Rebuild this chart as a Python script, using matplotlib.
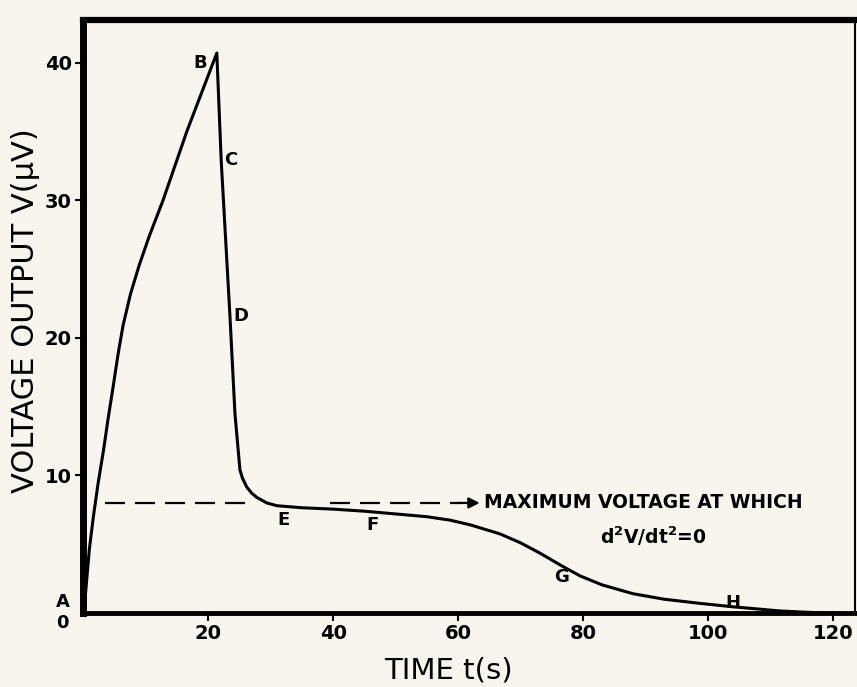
import numpy as np
import matplotlib
matplotlib.use("Agg")
import matplotlib.pyplot as plt

## curve: time (s) and voltage (uV)
t_rise = [0, 0.3, 1.0, 1.65, 2.4, 3.3, 4.0, 4.9, 5.6, 6.4, 7.6, 9.0, 10.6, 12.8, 16.6, 21.4]
v_rise = [0, 0.9, 4.6, 7.0, 9.4, 11.9, 14.1, 16.7, 18.8, 20.9, 23.2, 25.3, 27.4, 30, 35, 40.7]

t_fall = [22.1, 23.5, 24.3, 25.1, 25.5, 26.2, 27.0, 27.8, 29.4, 31.0]
v_fall = [32.9, 21.6, 14.5, 10.4, 9.8, 9.15, 8.7, 8.4, 8.0, 7.8]

t_tail = [35, 40, 45, 50, 55, 58.7, 62, 66.7, 70, 73.1, 76.5, 79.5, 83, 88, 93, 98.7, 104, 111.5, 116, 120]
v_tail = [7.65, 7.55, 7.4, 7.2, 7.0, 6.75, 6.4, 5.75, 5.1, 4.35, 3.45, 2.7, 2.05, 1.4, 1.0, 0.7, 0.45, 0.15, 0.05, 0.0]

v_inflect = 8.0  # dashed level

point_names = ['B', 'C', 'D', 'E', 'F', 'G', 'H']
point_t = [18.7, 23.6, 25.2, 32.0, 46.3, 76.6, 104.0]
point_v = [40.0, 32.9, 21.6, 6.75, 6.4, 2.6, 0.75]

xticks = [20, 40, 60, 80, 100, 120]
yticks = [10, 20, 30, 40]

t = t_rise + t_fall + t_tail
v = v_rise + v_fall + v_tail

paper = '#f7f5ee'
fig = plt.figure(figsize=(8.57, 6.87), dpi=100, facecolor=paper)
ax = fig.add_axes([0.0969, 0.1077, 0.9008, 0.8632], facecolor=paper)

ax.plot(t, v, color='black', lw=2.2, solid_joinstyle='round')

# dashed line + arrow to the note
ax.plot([3.5, 26.8], [v_inflect, v_inflect], color='black', lw=1.6, dashes=(9, 4.5))
ax.plot([39.5, 60.5], [v_inflect, v_inflect], color='black', lw=1.6, dashes=(9, 4.5))
ax.annotate('', xy=(63.9, v_inflect), xytext=(59.5, v_inflect),
            arrowprops=dict(arrowstyle='-|>', color='black', lw=1.6, mutation_scale=16))

ax.text(64.2, v_inflect, 'MAXIMUM VOLTAGE AT WHICH', fontsize=13.5, fontweight='bold',
        ha='left', va='center')
ax.text(91.2, 5.6, r'd$^{\mathbf{2}}$V/dt$^{\mathbf{2}}$=0', fontsize=13.5, fontweight='bold',
        ha='center', va='center')

for name, x, y in zip(point_names, point_t, point_v):
    ax.text(x, y, name, fontsize=13, fontweight='bold', ha='center', va='center')

ax.text(-3.3, 0.8, 'A', fontsize=13, fontweight='bold', ha='center', va='center', clip_on=False)
ax.text(-3.3, -0.7, '0', fontsize=13, fontweight='bold', ha='center', va='center', clip_on=False)

ax.set_xlim(0, 123.5)
ax.set_ylim(0, 43.1)
ax.set_xticks(xticks)
ax.set_yticks(yticks)
ax.tick_params(axis='both', direction='out', length=6, width=1.5, labelsize=14, pad=2)
for lab in ax.get_xticklabels() + ax.get_yticklabels():
    lab.set_fontweight('bold')

ax.spines['left'].set_linewidth(5)
ax.spines['top'].set_linewidth(4.5)
ax.spines['bottom'].set_linewidth(3.5)
ax.spines['right'].set_linewidth(1.5)

ax.set_ylabel(u'VOLTAGE OUTPUT V(\u03bcV)', fontsize=22)
ax.yaxis.set_label_coords(-0.056, 0.51)
ax.set_xlabel('TIME t(s)', fontsize=21, va='center')
ax.xaxis.set_label_coords(0.473, -0.097)

plt.savefig('out.png', dpi=100, facecolor=paper)
